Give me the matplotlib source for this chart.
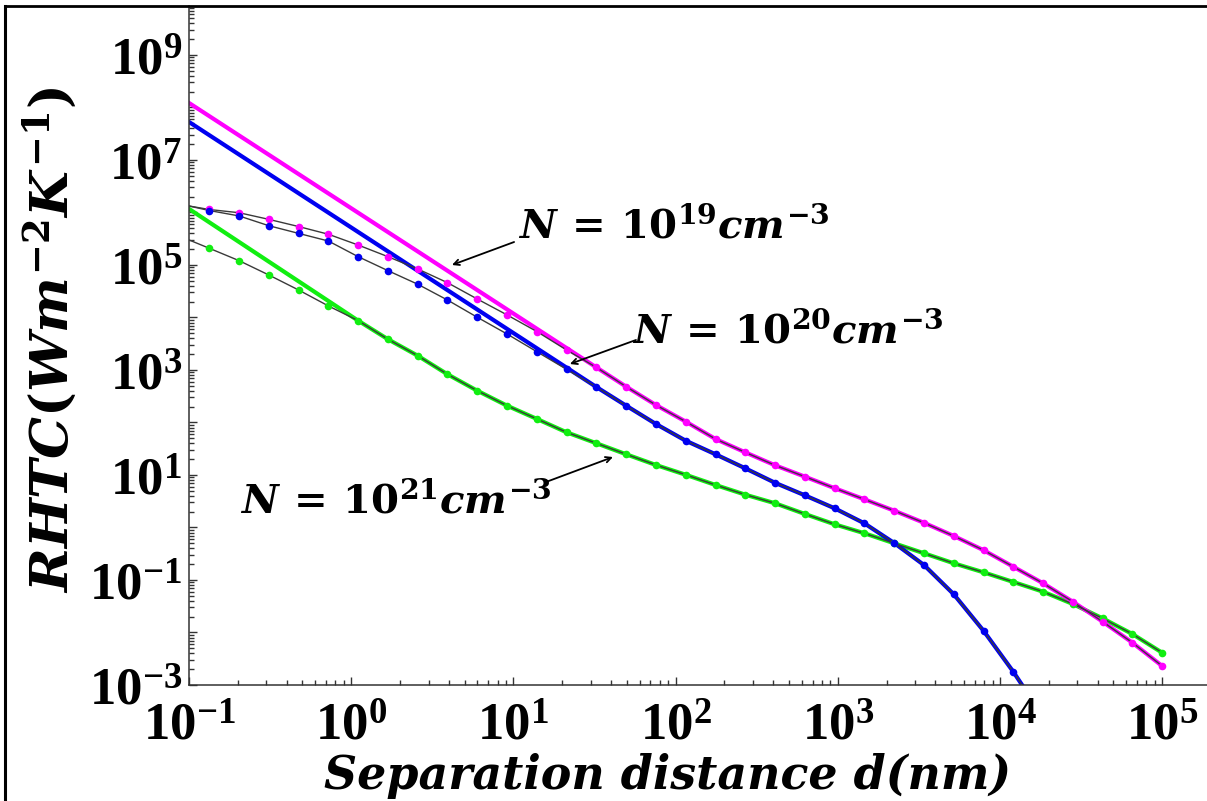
import numpy as np
import matplotlib
matplotlib.use("Agg")
import matplotlib.pyplot as plt
from matplotlib.ticker import FixedLocator, LogLocator, FuncFormatter, NullFormatter
from matplotlib.lines import Line2D

plt.rcParams['mathtext.fontset'] = 'custom'
plt.rcParams['mathtext.bf'] = 'Liberation Serif:bold'
plt.rcParams['mathtext.it'] = 'DejaVu Serif:italic:bold'
plt.rcParams['mathtext.rm'] = 'DejaVu Serif:bold'

# separation distance (nm) of the computed points
d = [0.1334, 0.2035, 0.3105, 0.4739, 0.7234, 1.104, 1.685, 2.572, 3.924, 5.989,
     9.140, 13.95, 21.29, 32.49, 49.59, 75.68, 115.5, 176.3, 269.0, 410.6,
     626.6, 956.3, 1459, 2227, 3399, 5187, 7917, 12080, 18440, 28130,
     42940, 65530, 100000]

# RHTC (W m^-2 K^-1), computed points
h19 = [1.14e6, 9.9e5, 7.4e5, 5.4e5, 3.85e5, 2.4e5, 1.44e5, 8.4e4, 4.6e4, 2.25e4,
       1.12e4, 5.4e3, 2.4e3, 1.12e3, 481, 215, 104, 48.5, 27, 15.3,
       9.3, 5.6, 3.44, 2.09, 1.23, 0.69, 0.37, 0.179, 0.0865, 0.0386,
       0.0161, 0.0064, 0.0023]
h20 = [1.09e6, 8.6e5, 5.6e5, 4.0e5, 2.86e5, 1.44e5, 7.8e4, 4.3e4, 2.15e4, 1.01e4,
       4.85e3, 2.23e3, 1.03e3, 474, 209, 93.6, 45, 24.8, 13.4, 7.1,
       4.1, 2.32, 1.20, 0.507, 0.193, 0.0535, 0.0108, 0.00179, 2.5e-4]
h21 = [2.08e5, 1.21e5, 6.45e4, 3.34e4, 1.66e4, 8.7e3, 3.85e3, 1.87e3, 828, 403,
       209, 117, 65, 40.2, 24.8, 15.5, 10.1, 6.45, 4.22, 2.89,
       1.81, 1.15, 0.776, 0.50, 0.323, 0.208, 0.140, 0.0917, 0.0598, 0.0349,
       0.0186, 0.00935, 0.00412]

# values at d = 0.1 nm (start of curves)
d0 = 0.1
thin0 = {'19': 1.33e6, '20': 1.33e6, '21': 3.0e5}
solid0 = {'19': 1.22e8, '20': 5.3e7, '21': 1.17e6}
# index where the 1/d^2 line meets the computed points
merge = {'19': 13, '20': 13, '21': 5}

colors = {'19': '#ff00ff', '20': '#0000f0', '21': '#11ee11'}
series = {'19': h19, '20': h20, '21': h21}

fig = plt.figure(figsize=(12.07, 8.01), dpi=100)
ax = fig.add_axes([189/1207, 116/801, 1018/1207, 679/801])

# thick lines
for key in ['21', '19', '20']:
    h = series[key]
    k = merge[key]
    xs = [d0] + d[k:len(h)]
    ys = [solid0[key]] + h[k:]
    ax.plot(xs, ys, '-', color=colors[key], lw=3.0, zorder=2)

# thin lines with dots
for key in ['21', '19', '20']:
    h = series[key]
    xs = [d0] + d[:len(h)]
    ys = [thin0[key]] + h
    ax.plot(xs, ys, '-', color='#3a3a3a', lw=1.0, zorder=3)
    ax.plot(d[:len(h)], h, 'o', color=colors[key], ms=5.5, mec='none', zorder=4)

ax.set_xscale('log')
ax.set_yscale('log')
ax.set_xlim(0.1, 1.89e5)
ax.set_ylim(1e-3, 8.57e9)

ax.spines['top'].set_visible(False)
ax.spines['right'].set_visible(False)
for s in ['left', 'bottom']:
    ax.spines[s].set_color('#333333')
    ax.spines[s].set_linewidth(1.1)

ax.xaxis.set_major_locator(FixedLocator([10.0**e for e in range(-1, 6)]))
ax.yaxis.set_major_locator(FixedLocator([10.0**e for e in range(-3, 10)]))
ax.xaxis.set_minor_locator(LogLocator(base=10, subs=range(2, 10), numticks=100))
ax.yaxis.set_minor_locator(LogLocator(base=10, subs=range(2, 10), numticks=100))
ax.xaxis.set_minor_formatter(NullFormatter())
ax.yaxis.set_minor_formatter(NullFormatter())


def fmt_x(v, pos):
    return r'$\mathbf{10^{%d}}$' % int(round(np.log10(v)))


def fmt_y(v, pos):
    e = int(round(np.log10(v)))
    if e % 2 == 0:
        return ''
    return r'$\mathbf{10^{%d}}$' % e


ax.xaxis.set_major_formatter(FuncFormatter(fmt_x))
ax.yaxis.set_major_formatter(FuncFormatter(fmt_y))
ax.tick_params(which='both', direction='in', color='#333333', width=1.0)
ax.tick_params(which='major', length=6, labelsize=38)
ax.tick_params(which='minor', length=3.5)
ax.tick_params(axis='y', pad=5)
ax.tick_params(axis='x', pad=10)

# labels
fig.text(50/1207, 1 - 340/801, r'$RHTC(Wm^{-2}K^{-1})$', rotation=90,
         ha='center', va='center', fontsize=38)
fig.text(668/1207, 1 - 776/801, 'Separation distance d(nm)', ha='center', va='center',
         fontsize=33, family='DejaVu Serif', style='italic', weight='bold')

# annotations
arrow = dict(arrowstyle='->', color='black', lw=1.3, shrinkA=0, shrinkB=0)
ax.text(10.7, 3.41e5, r'$N\,=\,10^{19}cm^{-3}$', fontsize=29, ha='left', va='baseline')
ax.annotate('', xy=(4.18, 1.0e5), xytext=(10.1, 2.74e5), arrowprops=arrow)
ax.text(53.8, 3.41e3, r'$N\,=\,10^{20}cm^{-3}$', fontsize=29, ha='left', va='baseline')
ax.annotate('', xy=(22.3, 1.3e3), xytext=(57, 3.73e3), arrowprops=arrow)
ax.text(0.206, 1.97, r'$N\,=\,10^{21}cm^{-3}$', fontsize=29, ha='left', va='baseline')
ax.annotate('', xy=(41.1, 22.0), xytext=(15.9, 7.36), arrowprops=arrow)

# frame of the figure (left and top edges)
fig.add_artist(Line2D([5/1207, 5/1207], [0, 1 - 6/801], transform=fig.transFigure,
                      color='black', lw=2.2))
fig.add_artist(Line2D([5/1207, 1], [1 - 6/801, 1 - 6/801], transform=fig.transFigure,
                      color='black', lw=2.0))

fig.savefig('out.png', dpi=100)
